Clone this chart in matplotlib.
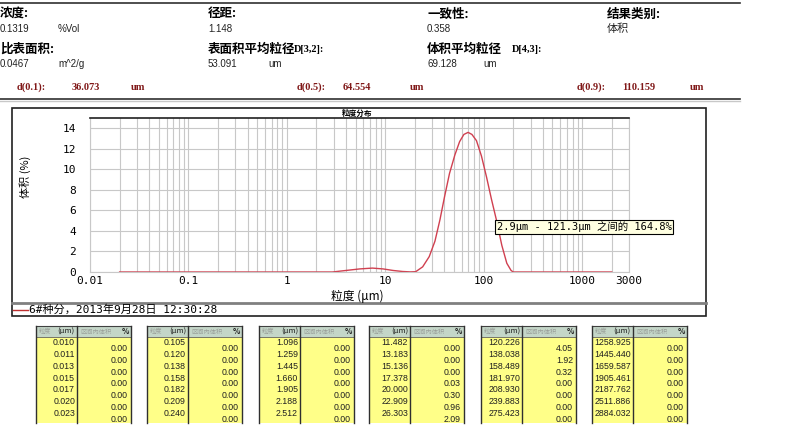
import numpy as np
import matplotlib
matplotlib.use('Agg')
import matplotlib.pyplot as plt
from matplotlib.patches import Rectangle
from matplotlib.ticker import LogLocator, FixedLocator, FixedFormatter, NullFormatter

plt.rcParams['font.family'] = ['Noto Sans CJK SC', 'DejaVu Sans']
MONO = ['DejaVu Sans Mono', 'Noto Sans CJK SC']

# 曲线数据
size_um = [0.02, 2.9, 4.0, 5.5, 7.4, 9.5, 12, 15, 18, 20.4, 24, 28, 32, 36, 40, 45,
           51, 57, 63, 69.5, 76, 84.5, 95, 107, 120, 135, 153, 172, 190, 200, 2000]
vol_pct = [0.0, 0.0, 0.15, 0.30, 0.38, 0.30, 0.15, 0.05, 0.01, 0.03, 0.5, 1.5, 3.0, 5.1, 7.3, 9.6,
           11.4, 12.7, 13.4, 13.6, 13.4, 12.8, 11.3, 9.25, 7.1, 5.05, 2.6, 0.85, 0.15, 0.0, 0.0]

x_ticks = [0.01, 0.1, 1, 10, 100, 1000, 3000]
x_tick_labels = ['0.01', '0.1', '1', '10', '100', '1000', '3000']
y_ticks = [0, 2, 4, 6, 8, 10, 12, 14]

# 表格数据
tbl_sizes = [
    ['0.010', '0.011', '0.013', '0.015', '0.017', '0.020', '0.023'],
    ['0.105', '0.120', '0.138', '0.158', '0.182', '0.209', '0.240'],
    ['1.096', '1.259', '1.445', '1.660', '1.905', '2.188', '2.512'],
    ['11.482', '13.183', '15.136', '17.378', '20.000', '22.909', '26.303'],
    ['120.226', '138.038', '158.489', '181.970', '208.930', '239.883', '275.423'],
    ['1258.925', '1445.440', '1659.587', '1905.461', '2187.762', '2511.886', '2884.032'],
]
tbl_vols = [
    ['0.00'] * 7,
    ['0.00'] * 7,
    ['0.00'] * 7,
    ['0.00', '0.00', '0.00', '0.03', '0.30', '0.96', '2.09'],
    ['4.05', '1.92', '0.32', '0.00', '0.00', '0.00', '0.00'],
    ['0.00'] * 7,
]

W, H = 800, 442
fig = plt.figure(figsize=(8, 4.42), dpi=100)

# 背景层, 像素坐标
ov = fig.add_axes([0, 0, 1, 1], zorder=0)
ov.set_xlim(0, W)
ov.set_ylim(H, 0)
ov.axis('off')

# 头部信息
ov.plot([0, 740], [3, 3], color='#303030', lw=1.2)
ov.plot([0, 740], [99, 99], color='#303030', lw=1.2)
ov.plot([0, 740], [101, 101], color='#c8c8c8', lw=1)

lab = dict(fontsize=9, fontweight='bold', va='center', ha='left')
val = dict(fontsize=7, va='center', ha='left', family='Liberation Sans', color='#222222')
dkw = dict(fontsize=7.5, fontweight='bold', va='center', ha='left',
           family='Liberation Serif', color='#801818')

ov.text(0, 14, '浓度:', **lab)
ov.text(0, 29, '0.1319', **val)
ov.text(58, 29, '%Vol', **val)
ov.text(0, 49, '比表面积:', **lab)
ov.text(0, 64, '0.0467', **val)
ov.text(58, 64, 'm^2/g', **val)

ov.text(208, 14, '径距:', **lab)
ov.text(208, 29, '1.148', **val)
ov.text(208, 49, '表面积平均粒径', **lab)
ov.text(294, 50, 'D[3,2]:', fontsize=7.5, fontweight='bold', va='center',
        family='Liberation Serif')
ov.text(208, 64, '53.091', **val)
ov.text(268, 64, 'um', **val)

ov.text(427, 14, '一致性:', **lab)
ov.text(427, 29, '0.358', **val)
ov.text(427, 49, '体积平均粒径', **lab)
ov.text(512, 50, 'D[4,3]:', fontsize=7.5, fontweight='bold', va='center',
        family='Liberation Serif')
ov.text(427, 64, '69.128', **val)
ov.text(483, 64, 'um', **val)

ov.text(607, 14, '结果类别:', **lab)
ov.text(607, 29, '体积', fontsize=8, va='center', ha='left', color='#222222')

ov.text(17, 87, 'd(0.1):', **dkw)
ov.text(72, 87, '36.073', **dkw)
ov.text(131, 87, 'um', **dkw)
ov.text(297, 87, 'd(0.5):', **dkw)
ov.text(343, 87, '64.554', **dkw)
ov.text(410, 87, 'um', **dkw)
ov.text(577, 87, 'd(0.9):', **dkw)
ov.text(622, 87, '110.159', **dkw)
ov.text(690, 87, 'um', **dkw)

# 图框
ov.add_patch(Rectangle((12, 108), 694, 208, fill=False, ec='#202020', lw=1.2))
ov.plot([12, 706], [303, 303], color='#808080', lw=2)
ov.plot([13, 28], [309.5, 309.5], color='#c03030', lw=1)
ov.text(29, 309.5, '6#种分，2013年9月28日 12:30:28', fontsize=8, va='center', ha='left',
        family=MONO)
ov.text(357, 113, '粒度分布', fontsize=5.5, fontweight='bold', va='center', ha='center')
ov.text(25, 177, '体积 (%)', fontsize=8, rotation=90, va='center', ha='center')
ov.text(357, 296, '粒度 (μm)', fontsize=8.5, va='center', ha='center')

# 曲线图
l, r, t, b = 90, 629, 118, 272
ax = fig.add_axes([l / W, 1 - b / H, (r - l) / W, (b - t) / H], zorder=1)
ax.plot(size_um, vol_pct, color='#d04050', lw=1)
ax.set_xscale('log')
ax.set_xlim(0.01, 3000)
ax.set_ylim(0, 15)
ax.xaxis.set_major_locator(FixedLocator(x_ticks))
ax.xaxis.set_major_formatter(FixedFormatter(x_tick_labels))
ax.xaxis.set_minor_locator(LogLocator(base=10, subs=np.arange(2, 10)))
ax.xaxis.set_minor_formatter(NullFormatter())
ax.set_yticks(y_ticks)
ax.grid(True, which='both', axis='x', color='#c8c8c8', lw=0.8)
ax.grid(True, which='major', axis='y', color='#c8c8c8', lw=0.8)
ax.set_axisbelow(True)
for s in ['left', 'right', 'bottom']:
    ax.spines[s].set_color('#c8c8c8')
    ax.spines[s].set_linewidth(0.8)
ax.spines['top'].set_color('#202020')
ax.spines['top'].set_linewidth(1.2)
ax.tick_params(which='both', length=0, labelsize=8, pad=3)
ax.tick_params(axis='y', pad=10)
for lbl in ax.get_xticklabels() + ax.get_yticklabels():
    lbl.set_family(MONO)

# 注释框
ax.text(497, 227, '2.9μm - 121.3μm 之间的 164.8%', transform=ov.transData,
        fontsize=7.5, va='center', ha='left', clip_on=False, family=MONO,
        bbox=dict(boxstyle='square,pad=0.15', fc='#ffffe1', ec='black', lw=0.8))

# 数据表
tbl_left = [36, 147, 259, 369, 481, 592]
split_w = 41
tbl_w = 95
tbl_top, hdr_bot, tbl_bot = 326, 337, 423
row_y = 342.7
row_h = 11.8
for i in range(len(tbl_sizes)):
    x0 = tbl_left[i]
    xs = x0 + split_w
    x1 = x0 + tbl_w
    ov.add_patch(Rectangle((x0, tbl_top), tbl_w, hdr_bot - tbl_top, fc='#c4d6c8', ec='none'))
    ov.add_patch(Rectangle((x0, hdr_bot), tbl_w, tbl_bot - hdr_bot, fc='#ffff88', ec='none'))
    ov.plot([x0, x1], [tbl_top, tbl_top], color='#404040', lw=0.8)
    ov.plot([x0, x1], [hdr_bot, hdr_bot], color='#606060', lw=0.6)
    for xx in (x0, xs, x1):
        ov.plot([xx, xx], [tbl_top, tbl_bot], color='#303030', lw=1)
    ov.text(x0 + 3, 331.5, '粒度', fontsize=4.5, color='#9aa09a', va='center', ha='left')
    ov.text(xs - 2, 331.5, '(μm)', fontsize=5.5, color='#202020', va='center', ha='right')
    ov.text(xs + 3, 331.5, '区间内体积', fontsize=4.5, color='#9aa09a', va='center', ha='left')
    ov.text(x1 - 2, 331.5, '%', fontsize=5.5, fontweight='bold', color='#202020', va='center', ha='right')
    for j in range(7):
        ov.text(xs - 2, row_y + j * row_h, tbl_sizes[i][j], fontsize=6.3,
                family='Liberation Sans', va='center', ha='right', color='#202020')
        ov.text(x1 - 3, row_y + 5.8 + j * row_h, tbl_vols[i][j], fontsize=6.3,
                family='Liberation Sans', va='center', ha='right', color='#202020')

fig.savefig('out.png', dpi=100)
